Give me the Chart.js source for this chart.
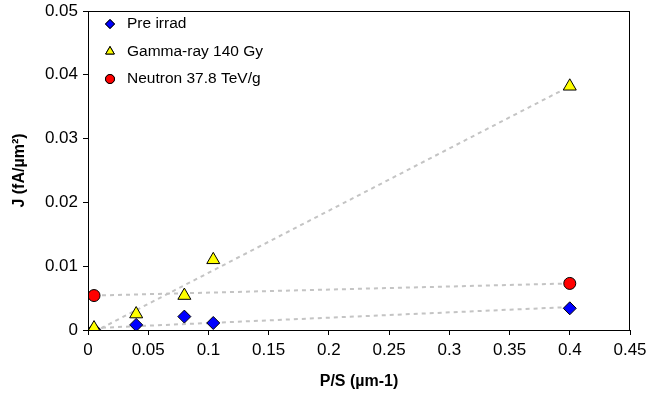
<!DOCTYPE html>
<html>
<head>
<meta charset="utf-8">
<script src="https://cdn.jsdelivr.net/npm/chart.js@4/dist/chart.umd.min.js"></script>
<style>
  html, body { margin: 0; padding: 0; background: #fff; }
  #wrap { width: 649px; height: 394px; }
</style>
</head>
<body>
<div id="wrap"><canvas id="chart"></canvas></div>
<script>
// --- datos
const xTicks = [0, 0.05, 0.1, 0.15, 0.2, 0.25, 0.3, 0.35, 0.4, 0.45];
const yTicks = [0, 0.01, 0.02, 0.03, 0.04, 0.05];

const preX = [0.005, 0.04, 0.08, 0.104, 0.4];
const preY = [0.0001, 0.0008, 0.0021, 0.0011, 0.0034];

const gammaX = [0.005, 0.04, 0.08, 0.104, 0.4];
const gammaY = [0.0003, 0.0025, 0.0054, 0.011, 0.0382];

const neutronX = [0.005, 0.4];
const neutronY = [0.0054, 0.0073];

// rectas de tendencia (extremos leidos)
const trendPreX = [0.005, 0.4];
const trendPreY = [0.0003, 0.0036];
const trendGammaX = [0.005, 0.4];
const trendGammaY = [-0.0003, 0.0382];
const trendNeutronX = [0.005, 0.4];
const trendNeutronY = [0.0054, 0.0073];

const pts = (xs, ys) => xs.map((x, i) => ({ x: x, y: ys[i] }));

const FONT = "'Liberation Sans', Arial, sans-serif";

function trend(label, xs, ys) {
  return {
    type: 'line',
    label: label,
    data: pts(xs, ys),
    borderColor: '#c4c4c4',
    borderWidth: 2,
    borderDash: [4, 4],
    pointRadius: 0,
    fill: false,
    order: 5
  };
}

const series = [
  { label: 'Pre irrad', style: 'rectRot', color: '#0000ff', r: 6.5, lr: 4.5 },
  { label: 'Gamma-ray 140 Gy', style: 'triangle', color: '#ffff00', r: 7.5, lr: 5 },
  { label: 'Neutron 37.8 TeV/g', style: 'circle', color: '#ff0000', r: 6, lr: 4.5 }
];

// leyenda dentro del area y marco completo
const legendBox = {
  id: 'legendBox',
  afterDraw(chart) {
    const ctx = chart.ctx;
    const a = chart.chartArea;
    ctx.save();
    ctx.strokeStyle = '#000';
    ctx.lineWidth = 1;
    ctx.strokeRect(a.left + 0.5, a.top + 0.5, a.right - a.left - 1, a.bottom - a.top);
    ctx.font = '15.5px ' + FONT;
    ctx.fillStyle = '#000';
    ctx.textBaseline = 'middle';
    series.forEach((s, i) => {
      const y = a.top + 13 + i * 27.5;
      const x = a.left + 22;
      ctx.fillStyle = s.color;
      ctx.strokeStyle = '#000';
      ctx.lineWidth = 1;
      Chart.helpers.drawPoint(ctx, { pointStyle: s.style, radius: s.lr, borderWidth: 1 }, x, y);
      ctx.fill();
      ctx.stroke();
      ctx.fillStyle = '#000';
      ctx.fillText(s.label, a.left + 39, y);
    });
    ctx.restore();
  }
};

const ctx = document.getElementById('chart').getContext('2d');
new Chart(ctx, {
  type: 'scatter',
  data: {
    datasets: [
      trend('t1', trendPreX, trendPreY),
      trend('t2', trendGammaX, trendGammaY),
      trend('t3', trendNeutronX, trendNeutronY),
      {
        label: series[0].label,
        data: pts(preX, preY),
        pointStyle: 'rectRot',
        pointRadius: series[0].r,
        backgroundColor: series[0].color,
        borderColor: '#000',
        borderWidth: 1,
        order: 3
      },
      {
        label: series[1].label,
        data: pts(gammaX, gammaY),
        pointStyle: 'triangle',
        pointRadius: series[1].r,
        backgroundColor: series[1].color,
        borderColor: '#000',
        borderWidth: 1,
        order: 2
      },
      {
        label: series[2].label,
        data: pts(neutronX, neutronY),
        pointStyle: 'circle',
        pointRadius: series[2].r,
        backgroundColor: series[2].color,
        borderColor: '#000',
        borderWidth: 1,
        order: 1
      }
    ]
  },
  options: {
    responsive: true,
    maintainAspectRatio: false,
    animation: false,
    layout: { padding: 0 },
    plugins: {
      legend: { display: false },
      tooltip: { enabled: false }
    },
    scales: {
      x: {
        type: 'linear',
        min: 0,
        max: 0.45,
        afterBuildTicks: s => { s.ticks = xTicks.map(v => ({ value: v })); },
        afterFit: s => { s.height = 64; s.paddingRight = 19; s.paddingLeft = 0; },
        grid: { drawOnChartArea: false, drawTicks: true, tickLength: 5, color: '#000' },
        border: { color: '#000', width: 1 },
        ticks: {
          color: '#000',
          font: { family: FONT, size: 17 },
          padding: 5,
          maxRotation: 0,
          callback: v => String(v)
        },
        title: {
          display: true,
          text: 'P/S (µm-1)',
          color: '#000',
          font: { family: FONT, size: 16, weight: 'bold' },
          padding: { top: 6, bottom: 3 }
        }
      },
      y: {
        type: 'linear',
        min: 0,
        max: 0.05,
        afterBuildTicks: s => { s.ticks = yTicks.map(v => ({ value: v })); },
        afterFit: s => { s.width = 88; s.paddingTop = 11; s.paddingBottom = 0; },
        grid: { drawOnChartArea: false, drawTicks: true, tickLength: 5, color: '#000' },
        border: { color: '#000', width: 1 },
        ticks: {
          color: '#000',
          font: { family: FONT, size: 17 },
          padding: 5,
          callback: v => String(v)
        },
        title: {
          display: true,
          text: 'J (fA/µm²)',
          color: '#000',
          font: { family: FONT, size: 16, weight: 'bold' },
          padding: { top: 10, bottom: 0 }
        }
      }
    }
  },
  plugins: [legendBox]
});
</script>
</body>
</html>
